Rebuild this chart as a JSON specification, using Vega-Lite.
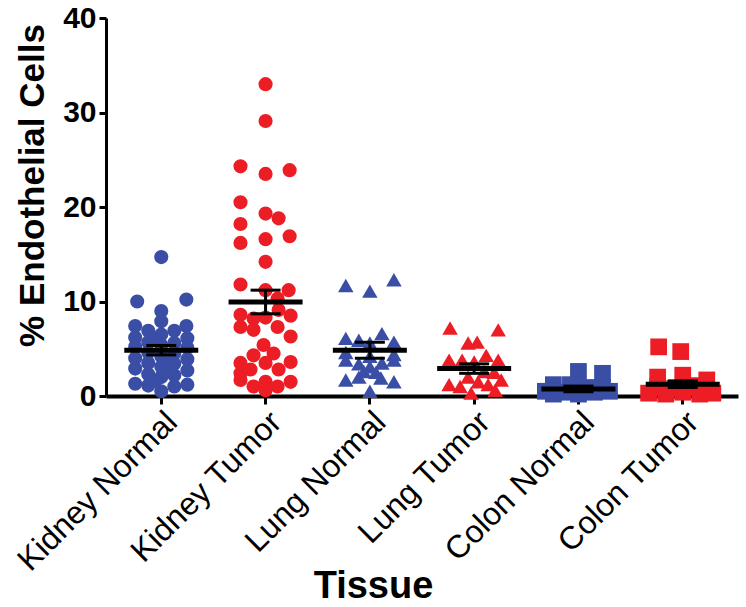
{
  "$schema": "https://vega.github.io/schema/vega-lite/v6.json",
  "width": 632,
  "height": 378,
  "autosize": {"type": "none"},
  "padding": {"left": 106, "top": 18, "right": 8, "bottom": 211},
  "background": "white",
  "config": {
    "view": {"stroke": null},
    "font": "Liberation Sans",
    "axisY": {"domainColor": "black", "domainWidth": 3, "tickColor": "black", "tickWidth": 3, "tickSize": 7, "labelFont": "Liberation Sans", "labelFontWeight": "bold", "labelFontSize": 30, "labelColor": "black", "labelPadding": 3, "titleFont": "Liberation Sans", "titleFontWeight": "bold", "titleFontSize": 35, "titleColor": "black", "titlePadding": 12, "titleY": 167, "grid": false},
    "axisX": {"domainColor": "black", "domainWidth": 4, "tickColor": "black", "tickWidth": 3, "tickSize": 8, "labelAngle": -45, "labelFont": "Liberation Sans", "labelFontSize": 32, "labelFontWeight": "normal", "labelColor": "black", "labelPadding": 2, "labelOverlap": false, "labelLimit": 400, "titleFont": "Liberation Sans", "titleFontSize": 38, "titleFontWeight": "bold", "titleColor": "black", "titleX": 267, "titleY": 201, "titleBaseline": "alphabetic", "grid": false}
  },
  "datasets": {
    "points": [
      {"tissue": "Kidney Normal", "organ": "Kidney", "condition": "Normal", "value": 14.7, "spread": 0},
      {"tissue": "Kidney Normal", "organ": "Kidney", "condition": "Normal", "value": 10.0, "spread": -24},
      {"tissue": "Kidney Normal", "organ": "Kidney", "condition": "Normal", "value": 10.2, "spread": 25},
      {"tissue": "Kidney Normal", "organ": "Kidney", "condition": "Normal", "value": 9.0, "spread": 0},
      {"tissue": "Kidney Normal", "organ": "Kidney", "condition": "Normal", "value": 7.4, "spread": -26},
      {"tissue": "Kidney Normal", "organ": "Kidney", "condition": "Normal", "value": 7.9, "spread": 0},
      {"tissue": "Kidney Normal", "organ": "Kidney", "condition": "Normal", "value": 7.4, "spread": 25},
      {"tissue": "Kidney Normal", "organ": "Kidney", "condition": "Normal", "value": 6.9, "spread": -13},
      {"tissue": "Kidney Normal", "organ": "Kidney", "condition": "Normal", "value": 6.9, "spread": 13},
      {"tissue": "Kidney Normal", "organ": "Kidney", "condition": "Normal", "value": 6.2, "spread": -26},
      {"tissue": "Kidney Normal", "organ": "Kidney", "condition": "Normal", "value": 6.5, "spread": 0},
      {"tissue": "Kidney Normal", "organ": "Kidney", "condition": "Normal", "value": 6.1, "spread": 26},
      {"tissue": "Kidney Normal", "organ": "Kidney", "condition": "Normal", "value": 5.7, "spread": -13},
      {"tissue": "Kidney Normal", "organ": "Kidney", "condition": "Normal", "value": 5.6, "spread": 13},
      {"tissue": "Kidney Normal", "organ": "Kidney", "condition": "Normal", "value": 5.4, "spread": 0},
      {"tissue": "Kidney Normal", "organ": "Kidney", "condition": "Normal", "value": 5.2, "spread": -26},
      {"tissue": "Kidney Normal", "organ": "Kidney", "condition": "Normal", "value": 5.1, "spread": 26},
      {"tissue": "Kidney Normal", "organ": "Kidney", "condition": "Normal", "value": 4.6, "spread": -13},
      {"tissue": "Kidney Normal", "organ": "Kidney", "condition": "Normal", "value": 4.5, "spread": 13},
      {"tissue": "Kidney Normal", "organ": "Kidney", "condition": "Normal", "value": 4.2, "spread": 0},
      {"tissue": "Kidney Normal", "organ": "Kidney", "condition": "Normal", "value": 4.0, "spread": -26},
      {"tissue": "Kidney Normal", "organ": "Kidney", "condition": "Normal", "value": 3.9, "spread": 26},
      {"tissue": "Kidney Normal", "organ": "Kidney", "condition": "Normal", "value": 3.5, "spread": -13},
      {"tissue": "Kidney Normal", "organ": "Kidney", "condition": "Normal", "value": 3.4, "spread": 13},
      {"tissue": "Kidney Normal", "organ": "Kidney", "condition": "Normal", "value": 3.1, "spread": 0},
      {"tissue": "Kidney Normal", "organ": "Kidney", "condition": "Normal", "value": 2.9, "spread": -26},
      {"tissue": "Kidney Normal", "organ": "Kidney", "condition": "Normal", "value": 2.7, "spread": 26},
      {"tissue": "Kidney Normal", "organ": "Kidney", "condition": "Normal", "value": 2.3, "spread": -13},
      {"tissue": "Kidney Normal", "organ": "Kidney", "condition": "Normal", "value": 2.2, "spread": 13},
      {"tissue": "Kidney Normal", "organ": "Kidney", "condition": "Normal", "value": 2.0, "spread": 0},
      {"tissue": "Kidney Normal", "organ": "Kidney", "condition": "Normal", "value": 1.3, "spread": -26},
      {"tissue": "Kidney Normal", "organ": "Kidney", "condition": "Normal", "value": 1.2, "spread": 26},
      {"tissue": "Kidney Normal", "organ": "Kidney", "condition": "Normal", "value": 1.1, "spread": -13},
      {"tissue": "Kidney Normal", "organ": "Kidney", "condition": "Normal", "value": 1.0, "spread": 13},
      {"tissue": "Kidney Normal", "organ": "Kidney", "condition": "Normal", "value": 0.5, "spread": 0},
      {"tissue": "Kidney Normal", "organ": "Kidney", "condition": "Normal", "value": 1.6, "spread": -6},
      {"tissue": "Kidney Normal", "organ": "Kidney", "condition": "Normal", "value": 2.6, "spread": 6},
      {"tissue": "Kidney Normal", "organ": "Kidney", "condition": "Normal", "value": 6.0, "spread": -6},
      {"tissue": "Kidney Normal", "organ": "Kidney", "condition": "Normal", "value": 3.8, "spread": 6},

      {"tissue": "Kidney Tumor", "organ": "Kidney", "condition": "Tumor", "value": 33.0, "spread": 0},
      {"tissue": "Kidney Tumor", "organ": "Kidney", "condition": "Tumor", "value": 29.1, "spread": 0},
      {"tissue": "Kidney Tumor", "organ": "Kidney", "condition": "Tumor", "value": 24.3, "spread": -25},
      {"tissue": "Kidney Tumor", "organ": "Kidney", "condition": "Tumor", "value": 23.5, "spread": 0},
      {"tissue": "Kidney Tumor", "organ": "Kidney", "condition": "Tumor", "value": 23.9, "spread": 24},
      {"tissue": "Kidney Tumor", "organ": "Kidney", "condition": "Tumor", "value": 20.5, "spread": -25},
      {"tissue": "Kidney Tumor", "organ": "Kidney", "condition": "Tumor", "value": 19.3, "spread": 0},
      {"tissue": "Kidney Tumor", "organ": "Kidney", "condition": "Tumor", "value": 18.8, "spread": 13},
      {"tissue": "Kidney Tumor", "organ": "Kidney", "condition": "Tumor", "value": 18.2, "spread": -25},
      {"tissue": "Kidney Tumor", "organ": "Kidney", "condition": "Tumor", "value": 16.2, "spread": -25},
      {"tissue": "Kidney Tumor", "organ": "Kidney", "condition": "Tumor", "value": 16.6, "spread": 0},
      {"tissue": "Kidney Tumor", "organ": "Kidney", "condition": "Tumor", "value": 16.9, "spread": 24},
      {"tissue": "Kidney Tumor", "organ": "Kidney", "condition": "Tumor", "value": 14.2, "spread": 0},
      {"tissue": "Kidney Tumor", "organ": "Kidney", "condition": "Tumor", "value": 11.8, "spread": -25},
      {"tissue": "Kidney Tumor", "organ": "Kidney", "condition": "Tumor", "value": 11.2, "spread": 0},
      {"tissue": "Kidney Tumor", "organ": "Kidney", "condition": "Tumor", "value": 11.2, "spread": 23},
      {"tissue": "Kidney Tumor", "organ": "Kidney", "condition": "Tumor", "value": 10.3, "spread": 12},
      {"tissue": "Kidney Tumor", "organ": "Kidney", "condition": "Tumor", "value": 8.6, "spread": -25},
      {"tissue": "Kidney Tumor", "organ": "Kidney", "condition": "Tumor", "value": 8.2, "spread": -12},
      {"tissue": "Kidney Tumor", "organ": "Kidney", "condition": "Tumor", "value": 8.3, "spread": 0},
      {"tissue": "Kidney Tumor", "organ": "Kidney", "condition": "Tumor", "value": 9.1, "spread": 13},
      {"tissue": "Kidney Tumor", "organ": "Kidney", "condition": "Tumor", "value": 8.5, "spread": 25},
      {"tissue": "Kidney Tumor", "organ": "Kidney", "condition": "Tumor", "value": 7.3, "spread": -25},
      {"tissue": "Kidney Tumor", "organ": "Kidney", "condition": "Tumor", "value": 7.0, "spread": -12},
      {"tissue": "Kidney Tumor", "organ": "Kidney", "condition": "Tumor", "value": 7.3, "spread": 12},
      {"tissue": "Kidney Tumor", "organ": "Kidney", "condition": "Tumor", "value": 6.3, "spread": 25},
      {"tissue": "Kidney Tumor", "organ": "Kidney", "condition": "Tumor", "value": 5.4, "spread": -2},
      {"tissue": "Kidney Tumor", "organ": "Kidney", "condition": "Tumor", "value": 4.3, "spread": -12},
      {"tissue": "Kidney Tumor", "organ": "Kidney", "condition": "Tumor", "value": 4.5, "spread": 8},
      {"tissue": "Kidney Tumor", "organ": "Kidney", "condition": "Tumor", "value": 3.5, "spread": -25},
      {"tissue": "Kidney Tumor", "organ": "Kidney", "condition": "Tumor", "value": 3.5, "spread": 0},
      {"tissue": "Kidney Tumor", "organ": "Kidney", "condition": "Tumor", "value": 3.6, "spread": 25},
      {"tissue": "Kidney Tumor", "organ": "Kidney", "condition": "Tumor", "value": 2.8, "spread": -15},
      {"tissue": "Kidney Tumor", "organ": "Kidney", "condition": "Tumor", "value": 2.8, "spread": 13},
      {"tissue": "Kidney Tumor", "organ": "Kidney", "condition": "Tumor", "value": 2.4, "spread": -25},
      {"tissue": "Kidney Tumor", "organ": "Kidney", "condition": "Tumor", "value": 1.7, "spread": -25},
      {"tissue": "Kidney Tumor", "organ": "Kidney", "condition": "Tumor", "value": 1.5, "spread": 0},
      {"tissue": "Kidney Tumor", "organ": "Kidney", "condition": "Tumor", "value": 1.5, "spread": 25},
      {"tissue": "Kidney Tumor", "organ": "Kidney", "condition": "Tumor", "value": 1.0, "spread": -12},
      {"tissue": "Kidney Tumor", "organ": "Kidney", "condition": "Tumor", "value": 0.6, "spread": 0},
      {"tissue": "Kidney Tumor", "organ": "Kidney", "condition": "Tumor", "value": 1.0, "spread": 12},

      {"tissue": "Lung Normal", "organ": "Lung", "condition": "Normal", "value": 11.7, "spread": -24},
      {"tissue": "Lung Normal", "organ": "Lung", "condition": "Normal", "value": 11.1, "spread": 0},
      {"tissue": "Lung Normal", "organ": "Lung", "condition": "Normal", "value": 12.3, "spread": 24},
      {"tissue": "Lung Normal", "organ": "Lung", "condition": "Normal", "value": 6.1, "spread": -24},
      {"tissue": "Lung Normal", "organ": "Lung", "condition": "Normal", "value": 5.9, "spread": -11},
      {"tissue": "Lung Normal", "organ": "Lung", "condition": "Normal", "value": 5.6, "spread": 0},
      {"tissue": "Lung Normal", "organ": "Lung", "condition": "Normal", "value": 6.6, "spread": 12},
      {"tissue": "Lung Normal", "organ": "Lung", "condition": "Normal", "value": 5.7, "spread": 24},
      {"tissue": "Lung Normal", "organ": "Lung", "condition": "Normal", "value": 4.6, "spread": -24},
      {"tissue": "Lung Normal", "organ": "Lung", "condition": "Normal", "value": 4.4, "spread": 24},
      {"tissue": "Lung Normal", "organ": "Lung", "condition": "Normal", "value": 3.8, "spread": -24},
      {"tissue": "Lung Normal", "organ": "Lung", "condition": "Normal", "value": 3.4, "spread": -11},
      {"tissue": "Lung Normal", "organ": "Lung", "condition": "Normal", "value": 3.1, "spread": 0},
      {"tissue": "Lung Normal", "organ": "Lung", "condition": "Normal", "value": 3.5, "spread": 12},
      {"tissue": "Lung Normal", "organ": "Lung", "condition": "Normal", "value": 3.8, "spread": 24},
      {"tissue": "Lung Normal", "organ": "Lung", "condition": "Normal", "value": 1.7, "spread": -24},
      {"tissue": "Lung Normal", "organ": "Lung", "condition": "Normal", "value": 2.0, "spread": -11},
      {"tissue": "Lung Normal", "organ": "Lung", "condition": "Normal", "value": 1.9, "spread": 11},
      {"tissue": "Lung Normal", "organ": "Lung", "condition": "Normal", "value": 1.5, "spread": 24},
      {"tissue": "Lung Normal", "organ": "Lung", "condition": "Normal", "value": 0.5, "spread": 0},
      {"tissue": "Lung Normal", "organ": "Lung", "condition": "Normal", "value": 4.2, "spread": 0},
      {"tissue": "Lung Normal", "organ": "Lung", "condition": "Normal", "value": 2.6, "spread": -6},
      {"tissue": "Lung Normal", "organ": "Lung", "condition": "Normal", "value": 2.5, "spread": 6},

      {"tissue": "Lung Tumor", "organ": "Lung", "condition": "Tumor", "value": 7.2, "spread": -24},
      {"tissue": "Lung Tumor", "organ": "Lung", "condition": "Tumor", "value": 7.0, "spread": 24},
      {"tissue": "Lung Tumor", "organ": "Lung", "condition": "Tumor", "value": 5.6, "spread": -6},
      {"tissue": "Lung Tumor", "organ": "Lung", "condition": "Tumor", "value": 5.7, "spread": 3},
      {"tissue": "Lung Tumor", "organ": "Lung", "condition": "Tumor", "value": 4.3, "spread": 12},
      {"tissue": "Lung Tumor", "organ": "Lung", "condition": "Tumor", "value": 3.8, "spread": -25},
      {"tissue": "Lung Tumor", "organ": "Lung", "condition": "Tumor", "value": 3.8, "spread": -12},
      {"tissue": "Lung Tumor", "organ": "Lung", "condition": "Tumor", "value": 3.6, "spread": 0},
      {"tissue": "Lung Tumor", "organ": "Lung", "condition": "Tumor", "value": 3.8, "spread": 24},
      {"tissue": "Lung Tumor", "organ": "Lung", "condition": "Tumor", "value": 2.0, "spread": -6},
      {"tissue": "Lung Tumor", "organ": "Lung", "condition": "Tumor", "value": 1.2, "spread": -25},
      {"tissue": "Lung Tumor", "organ": "Lung", "condition": "Tumor", "value": 1.5, "spread": 4},
      {"tissue": "Lung Tumor", "organ": "Lung", "condition": "Tumor", "value": 1.2, "spread": 14},
      {"tissue": "Lung Tumor", "organ": "Lung", "condition": "Tumor", "value": 1.7, "spread": 27},
      {"tissue": "Lung Tumor", "organ": "Lung", "condition": "Tumor", "value": 0.3, "spread": -3},
      {"tissue": "Lung Tumor", "organ": "Lung", "condition": "Tumor", "value": 0.6, "spread": 21},
      {"tissue": "Lung Tumor", "organ": "Lung", "condition": "Tumor", "value": 1.0, "spread": -14},
      {"tissue": "Lung Tumor", "organ": "Lung", "condition": "Tumor", "value": 2.6, "spread": 10},
      {"tissue": "Lung Tumor", "organ": "Lung", "condition": "Tumor", "value": 2.5, "spread": 20},

      {"tissue": "Colon Normal", "organ": "Colon", "condition": "Normal", "value": 1.2, "spread": -25},
      {"tissue": "Colon Normal", "organ": "Colon", "condition": "Normal", "value": 2.6, "spread": 0},
      {"tissue": "Colon Normal", "organ": "Colon", "condition": "Normal", "value": 2.4, "spread": 24},
      {"tissue": "Colon Normal", "organ": "Colon", "condition": "Normal", "value": 0.5, "spread": -33},
      {"tissue": "Colon Normal", "organ": "Colon", "condition": "Normal", "value": 0.4, "spread": -16},
      {"tissue": "Colon Normal", "organ": "Colon", "condition": "Normal", "value": 0.6, "spread": 0},
      {"tissue": "Colon Normal", "organ": "Colon", "condition": "Normal", "value": 0.4, "spread": 16},
      {"tissue": "Colon Normal", "organ": "Colon", "condition": "Normal", "value": 0.5, "spread": 31},
      {"tissue": "Colon Normal", "organ": "Colon", "condition": "Normal", "value": 0.2, "spread": -25},
      {"tissue": "Colon Normal", "organ": "Colon", "condition": "Normal", "value": 0.9, "spread": 8},
      {"tissue": "Colon Normal", "organ": "Colon", "condition": "Normal", "value": 1.2, "spread": -8},
      {"tissue": "Colon Normal", "organ": "Colon", "condition": "Normal", "value": 0.9, "spread": 24},
      {"tissue": "Colon Normal", "organ": "Colon", "condition": "Normal", "value": 0.2, "spread": 0},

      {"tissue": "Colon Tumor", "organ": "Colon", "condition": "Tumor", "value": 5.2, "spread": -24},
      {"tissue": "Colon Tumor", "organ": "Colon", "condition": "Tumor", "value": 4.7, "spread": -2},
      {"tissue": "Colon Tumor", "organ": "Colon", "condition": "Tumor", "value": 2.0, "spread": -25},
      {"tissue": "Colon Tumor", "organ": "Colon", "condition": "Tumor", "value": 2.2, "spread": 0},
      {"tissue": "Colon Tumor", "organ": "Colon", "condition": "Tumor", "value": 1.7, "spread": 24},
      {"tissue": "Colon Tumor", "organ": "Colon", "condition": "Tumor", "value": 0.3, "spread": -34},
      {"tissue": "Colon Tumor", "organ": "Colon", "condition": "Tumor", "value": 0.2, "spread": -17},
      {"tissue": "Colon Tumor", "organ": "Colon", "condition": "Tumor", "value": 0.4, "spread": 0},
      {"tissue": "Colon Tumor", "organ": "Colon", "condition": "Tumor", "value": 0.2, "spread": 17},
      {"tissue": "Colon Tumor", "organ": "Colon", "condition": "Tumor", "value": 0.3, "spread": 30},
      {"tissue": "Colon Tumor", "organ": "Colon", "condition": "Tumor", "value": 1.0, "spread": -25},
      {"tissue": "Colon Tumor", "organ": "Colon", "condition": "Tumor", "value": 1.1, "spread": 12},
      {"tissue": "Colon Tumor", "organ": "Colon", "condition": "Tumor", "value": 0.8, "spread": -8}
    ],
    "summary": [
      {"tissue": "Kidney Normal", "mean": 4.85, "lo": 4.35, "hi": 5.35},
      {"tissue": "Kidney Tumor", "mean": 9.95, "lo": 8.7, "hi": 11.2},
      {"tissue": "Lung Normal", "mean": 4.85, "lo": 4.0, "hi": 5.7},
      {"tissue": "Lung Tumor", "mean": 2.9, "lo": 2.4, "hi": 3.4},
      {"tissue": "Colon Normal", "mean": 0.75, "lo": 0.45, "hi": 1.05},
      {"tissue": "Colon Tumor", "mean": 1.25, "lo": 0.9, "hi": 1.6}
    ]
  },
  "layer": [
    {
      "data": {"name": "points"},
      "mark": {"type": "point", "filled": true, "opacity": 1, "strokeWidth": 0},
      "encoding": {
        "x": {"field": "tissue", "type": "nominal", "sort": ["Kidney Normal", "Kidney Tumor", "Lung Normal", "Lung Tumor", "Colon Normal", "Colon Tumor"], "scale": {"paddingInner": 0, "paddingOuter": 0.03}, "title": "Tissue"},
        "xOffset": {"field": "spread", "type": "quantitative", "scale": {"domain": [-52, 52], "range": [0, 104.29]}},
        "y": {"field": "value", "type": "quantitative", "scale": {"domain": [0, 40]}, "axis": {"values": [0, 10, 20, 30, 40]}, "title": "% Endothelial Cells"},
        "color": {"field": "condition", "type": "nominal", "scale": {"domain": ["Normal", "Tumor"], "range": ["#3a4ea6", "#ec1d25"]}, "legend": null},
        "shape": {"field": "organ", "type": "nominal", "scale": {"domain": ["Kidney", "Lung", "Colon"], "range": ["circle", "triangle-up", "square"]}, "legend": null},
        "size": {"field": "organ", "type": "nominal", "scale": {"domain": ["Kidney", "Lung", "Colon"], "range": [200, 280, 260]}, "legend": null}
      }
    },
    {
      "data": {"name": "summary"},
      "mark": {"type": "tick", "color": "black", "size": 74, "thickness": 5, "opacity": 1},
      "encoding": {
        "x": {"field": "tissue", "type": "nominal", "sort": ["Kidney Normal", "Kidney Tumor", "Lung Normal", "Lung Tumor", "Colon Normal", "Colon Tumor"], "title": "Tissue"},
        "y": {"field": "mean", "type": "quantitative", "title": "% Endothelial Cells"}
      }
    },
    {
      "data": {"name": "summary"},
      "mark": {"type": "rule", "color": "black", "strokeWidth": 3},
      "encoding": {
        "x": {"field": "tissue", "type": "nominal", "sort": ["Kidney Normal", "Kidney Tumor", "Lung Normal", "Lung Tumor", "Colon Normal", "Colon Tumor"], "title": "Tissue"},
        "y": {"field": "lo", "type": "quantitative", "title": "% Endothelial Cells"},
        "y2": {"field": "hi"}
      }
    },
    {
      "data": {"name": "summary"},
      "mark": {"type": "tick", "color": "black", "size": 30, "thickness": 3, "opacity": 1},
      "encoding": {
        "x": {"field": "tissue", "type": "nominal", "sort": ["Kidney Normal", "Kidney Tumor", "Lung Normal", "Lung Tumor", "Colon Normal", "Colon Tumor"], "title": "Tissue"},
        "y": {"field": "lo", "type": "quantitative", "title": "% Endothelial Cells"}
      }
    },
    {
      "data": {"name": "summary"},
      "mark": {"type": "tick", "color": "black", "size": 30, "thickness": 3, "opacity": 1},
      "encoding": {
        "x": {"field": "tissue", "type": "nominal", "sort": ["Kidney Normal", "Kidney Tumor", "Lung Normal", "Lung Tumor", "Colon Normal", "Colon Tumor"], "title": "Tissue"},
        "y": {"field": "hi", "type": "quantitative", "title": "% Endothelial Cells"}
      }
    }
  ]
}
